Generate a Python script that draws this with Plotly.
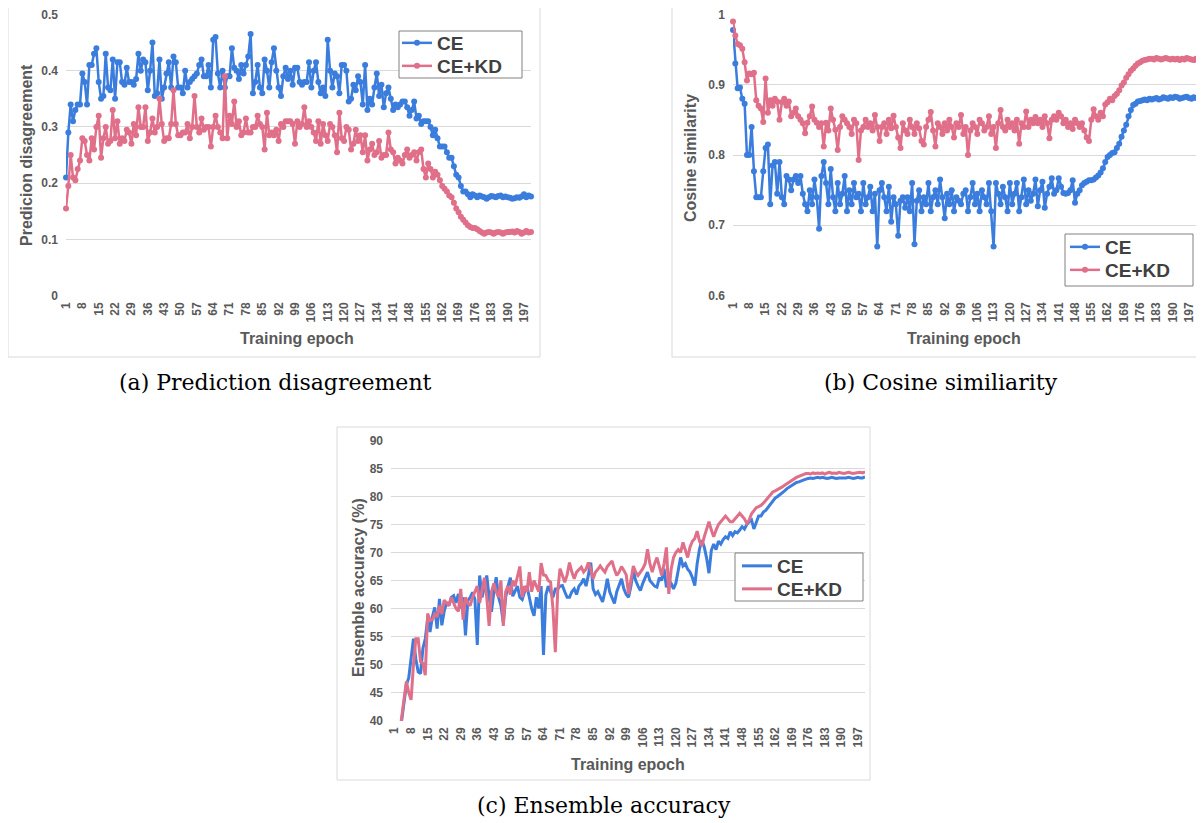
import plotly.graph_objects as go

# ---------------- data ----------------
epochs = list(range(1, 201))
tick_epochs = list(range(1, 201, 7))
tick_labels = [str(v) for v in tick_epochs]
series_names = ["CE", "CE+KD"]

ya_ticks = [0, 0.1, 0.2, 0.3, 0.4, 0.5]
ya_labels = ["0", "0.1", "0.2", "0.3", "0.4", "0.5"]
yb_ticks = [0.6, 0.7, 0.8, 0.9, 1.0]
yb_labels = ["0.6", "0.7", "0.8", "0.9", "1"]
yc_ticks = [40, 45, 50, 55, 60, 65, 70, 75, 80, 85, 90]
yc_labels = [str(v) for v in yc_ticks]

# (a) Prediction disagreement
pd_ce = [
    0.21, 0.29, 0.34, 0.31, 0.33, 0.34, 0.34, 0.395, 0.38, 0.34,
    0.41, 0.41, 0.43, 0.44, 0.38, 0.35, 0.355, 0.43, 0.37, 0.365,
    0.42, 0.35, 0.415, 0.415, 0.38, 0.375, 0.405, 0.38, 0.38, 0.375,
    0.385, 0.43, 0.40, 0.42, 0.415, 0.365, 0.40, 0.45, 0.355, 0.36,
    0.42, 0.35, 0.37, 0.395, 0.415, 0.37, 0.425, 0.415, 0.37, 0.37,
    0.36, 0.40, 0.37, 0.38, 0.385, 0.39, 0.395, 0.41, 0.42, 0.39,
    0.39, 0.41, 0.37, 0.455, 0.46, 0.395, 0.37, 0.40, 0.37, 0.39,
    0.39, 0.44, 0.405, 0.40, 0.385, 0.41, 0.395, 0.41, 0.425, 0.465,
    0.36, 0.38, 0.41, 0.37, 0.36, 0.42, 0.40, 0.37, 0.415, 0.44,
    0.40, 0.37, 0.355, 0.39, 0.405, 0.385, 0.40, 0.375, 0.405, 0.405,
    0.38, 0.375, 0.38, 0.38, 0.415, 0.37, 0.40, 0.415, 0.38, 0.36,
    0.37, 0.355, 0.455, 0.40, 0.37, 0.395, 0.39, 0.36, 0.41, 0.41,
    0.40, 0.345, 0.35, 0.375, 0.365, 0.39, 0.38, 0.34, 0.41, 0.33,
    0.35, 0.34, 0.37, 0.395, 0.355, 0.375, 0.335, 0.36, 0.37, 0.35,
    0.33, 0.34, 0.335, 0.34, 0.345, 0.345, 0.335, 0.32, 0.33, 0.345,
    0.315, 0.32, 0.305, 0.31, 0.31, 0.31, 0.30, 0.285, 0.295, 0.28,
    0.265, 0.265, 0.265, 0.255, 0.245, 0.245, 0.23, 0.215, 0.21, 0.195,
    0.185, 0.185, 0.18, 0.175, 0.18, 0.178, 0.175, 0.178, 0.176, 0.175,
    0.172, 0.175, 0.177, 0.176, 0.175, 0.177, 0.178, 0.175, 0.176, 0.175,
    0.174, 0.172, 0.173, 0.175, 0.174, 0.176, 0.18, 0.175, 0.178, 0.176,
]
pd_kd = [
    0.155, 0.195, 0.25, 0.21, 0.205, 0.225, 0.24, 0.28, 0.275, 0.25,
    0.24, 0.28, 0.26, 0.30, 0.32, 0.245, 0.28, 0.30, 0.27, 0.275,
    0.33, 0.28, 0.31, 0.27, 0.28, 0.275, 0.295, 0.29, 0.27, 0.305,
    0.285, 0.335, 0.30, 0.30, 0.335, 0.275, 0.29, 0.315, 0.29, 0.30,
    0.35, 0.305, 0.275, 0.28, 0.28, 0.305, 0.365, 0.305, 0.285, 0.285,
    0.29, 0.29, 0.305, 0.28, 0.30, 0.355, 0.30, 0.29, 0.315, 0.295,
    0.30, 0.30, 0.265, 0.30, 0.32, 0.30, 0.29, 0.28, 0.39, 0.28,
    0.32, 0.305, 0.345, 0.30, 0.31, 0.285, 0.29, 0.315, 0.29, 0.29,
    0.30, 0.30, 0.32, 0.305, 0.30, 0.26, 0.325, 0.285, 0.29, 0.285,
    0.295, 0.275, 0.305, 0.30, 0.31, 0.31, 0.31, 0.305, 0.27, 0.31,
    0.30, 0.305, 0.335, 0.30, 0.31, 0.30, 0.29, 0.275, 0.31, 0.27,
    0.305, 0.285, 0.275, 0.305, 0.30, 0.285, 0.255, 0.325, 0.28, 0.275,
    0.30, 0.295, 0.26, 0.27, 0.295, 0.275, 0.285, 0.255, 0.285, 0.24,
    0.26, 0.27, 0.25, 0.255, 0.275, 0.245, 0.25, 0.25, 0.29, 0.26,
    0.255, 0.235, 0.245, 0.24, 0.235, 0.25, 0.26, 0.245, 0.25, 0.255,
    0.24, 0.255, 0.26, 0.225, 0.21, 0.235, 0.225, 0.21, 0.22, 0.215,
    0.205, 0.195, 0.19, 0.185, 0.178, 0.175, 0.165, 0.155, 0.148, 0.14,
    0.135, 0.13, 0.125, 0.122, 0.12, 0.12, 0.118, 0.115, 0.112, 0.11,
    0.112, 0.113, 0.112, 0.11, 0.112, 0.113, 0.112, 0.11, 0.112, 0.113,
    0.113, 0.114, 0.112, 0.115, 0.113, 0.11, 0.112, 0.115, 0.112, 0.113,
]

# (b) Cosine similarity
cs_ce = [
    0.978, 0.93, 0.895, 0.896, 0.88, 0.873, 0.80, 0.80, 0.84, 0.777,
    0.74, 0.74, 0.74, 0.777, 0.81, 0.815, 0.73, 0.785, 0.79, 0.745,
    0.79, 0.74, 0.73, 0.77, 0.765, 0.75, 0.765, 0.77, 0.76, 0.77,
    0.745, 0.73, 0.72, 0.75, 0.73, 0.765, 0.74, 0.695, 0.77, 0.79,
    0.76, 0.73, 0.78, 0.74, 0.72, 0.76, 0.73, 0.745, 0.77, 0.72,
    0.75, 0.73, 0.76, 0.74, 0.745, 0.72, 0.76, 0.73, 0.74, 0.755,
    0.72, 0.745, 0.67, 0.75, 0.76, 0.74, 0.72, 0.755, 0.705, 0.74,
    0.73, 0.685, 0.735, 0.74, 0.725, 0.74, 0.72, 0.76, 0.673, 0.735,
    0.75, 0.72, 0.74, 0.73, 0.76, 0.72, 0.74, 0.75, 0.73, 0.765,
    0.74, 0.71, 0.745, 0.73, 0.75, 0.72, 0.74, 0.735, 0.73, 0.745,
    0.75, 0.72, 0.74, 0.76, 0.73, 0.745, 0.72, 0.75, 0.74, 0.73,
    0.76, 0.72, 0.67, 0.76, 0.745, 0.73, 0.755, 0.74, 0.72, 0.76,
    0.73, 0.745, 0.76, 0.72, 0.74, 0.765, 0.73, 0.75, 0.735, 0.745,
    0.765, 0.727, 0.75, 0.762, 0.725, 0.745, 0.755, 0.767, 0.745, 0.75,
    0.767, 0.755, 0.746, 0.745, 0.746, 0.75, 0.764, 0.732, 0.745, 0.75,
    0.757, 0.76, 0.762, 0.764, 0.764, 0.765, 0.768, 0.771, 0.775, 0.781,
    0.79, 0.797, 0.80, 0.803, 0.804, 0.81, 0.816, 0.826, 0.835, 0.843,
    0.855, 0.864, 0.871, 0.873, 0.876, 0.877, 0.878, 0.879, 0.878, 0.88,
    0.879, 0.88, 0.881, 0.879, 0.88, 0.882, 0.881, 0.88, 0.882, 0.881,
    0.883, 0.882, 0.88, 0.881, 0.882, 0.883, 0.881, 0.88, 0.882, 0.881,
]
cs_kd = [
    0.99, 0.97, 0.958, 0.956, 0.951, 0.932, 0.906, 0.916, 0.915, 0.917,
    0.878, 0.87, 0.866, 0.847, 0.909, 0.86, 0.878, 0.87, 0.88, 0.876,
    0.85, 0.875, 0.88, 0.87, 0.876, 0.855, 0.86, 0.866, 0.855, 0.85,
    0.845, 0.831, 0.846, 0.855, 0.869, 0.85, 0.846, 0.84, 0.845, 0.812,
    0.846, 0.835, 0.866, 0.85, 0.836, 0.807, 0.84, 0.855, 0.85, 0.845,
    0.84, 0.83, 0.85, 0.845, 0.793, 0.835, 0.84, 0.85, 0.84, 0.845,
    0.835, 0.857, 0.84, 0.82, 0.84, 0.845, 0.83, 0.85, 0.838, 0.856,
    0.84, 0.825, 0.81, 0.845, 0.835, 0.83, 0.85, 0.84, 0.83, 0.845,
    0.838, 0.82, 0.815, 0.84, 0.85, 0.861, 0.835, 0.812, 0.845, 0.84,
    0.83, 0.845, 0.835, 0.85, 0.84, 0.825, 0.845, 0.84, 0.857, 0.83,
    0.84, 0.80, 0.835, 0.845, 0.84, 0.83, 0.85, 0.845, 0.835, 0.84,
    0.855, 0.83, 0.84, 0.81, 0.845, 0.864, 0.84, 0.835, 0.85, 0.84,
    0.845, 0.835, 0.85, 0.816, 0.845, 0.84, 0.862, 0.84, 0.85, 0.845,
    0.854, 0.845, 0.85, 0.84, 0.855, 0.845, 0.824, 0.85, 0.855, 0.85,
    0.86, 0.855, 0.845, 0.85, 0.84, 0.845, 0.837, 0.85, 0.845, 0.84,
    0.845, 0.835, 0.825, 0.82, 0.85, 0.865, 0.855, 0.85, 0.86, 0.855,
    0.872, 0.875, 0.88, 0.878, 0.884, 0.887, 0.892, 0.899, 0.903, 0.91,
    0.915, 0.92, 0.923, 0.927, 0.93, 0.932, 0.934, 0.935, 0.936, 0.937,
    0.937, 0.936, 0.938, 0.937, 0.936, 0.937, 0.938, 0.937, 0.936, 0.937,
    0.936, 0.937, 0.935, 0.937, 0.936, 0.938, 0.937, 0.936, 0.935, 0.937,
]

# (c) Ensemble accuracy (%)
ea_ce = [
    24, 31, 37, 40, 43, 46.4, 47.6, 51, 54.6, 51,
    48.7, 48.4, 52.9, 54.6, 58.2, 55.8, 58.5, 60.2, 56.4, 61.7,
    57, 59.5, 61.1, 60.5, 62, 62.3, 61, 62.6, 60, 62,
    55.2, 61.4, 62, 62.9, 61.6, 53.5, 65.9, 62, 64, 65.9,
    62, 59.4, 63, 65.6, 62, 60.5, 57.5, 62, 64, 65.5,
    62.2, 63, 64, 62, 61.6, 63, 64, 62, 60, 58.7,
    62, 60, 64, 51.7, 62.4, 64, 63, 62, 63.5, 63.5,
    64, 64.1, 63, 62, 62, 63, 63.5, 62.5, 64, 64.5,
    65.3, 64, 66, 68.2, 63.5, 62.5, 63, 62, 61.2, 63,
    65.3, 63, 62, 60.9, 63, 64, 65.3, 63.5, 62.5, 62,
    64, 66.8, 65, 64, 63.2, 64.5, 65.5, 66.5, 65, 64.5,
    64, 63.8, 65.5, 65, 67.1, 63.8, 65, 64.5, 63.5, 64.5,
    67, 69.1, 67.6, 68, 67, 66.5, 65.5, 64.1, 68, 70.6,
    72.2, 71, 69, 66.3, 70.4, 71.5, 70.5, 72, 71.5, 72.3,
    72.8, 72.5, 73.7, 73, 73.7, 73.5, 74, 74.6, 74.2, 75,
    75.5, 75.8, 74.2, 75.5, 76.5, 76.5, 77.2, 77.5, 78.1, 78.5,
    79.2, 79.7, 80, 80.3, 80.7, 81, 81.4, 81.7, 82, 82.3,
    82.5, 82.6, 82.8, 83, 83.1, 83.2, 83.3, 83.2, 83.3, 83.4,
    83.3, 83.4, 83.3, 83.2, 83.3, 83.4, 83.3, 83.2, 83.3, 83.3,
    83.2, 83.3, 83.4, 83.3, 83.2, 83.3, 83.4, 83.3, 83.3, 83.5,
]
ea_kd = [
    25, 32, 37.5, 40.5, 43.5, 47, 45, 43.7, 50, 54.6,
    54.6, 50.5, 50.2, 48.1, 59.1, 57.9, 58, 59, 58.5, 60.5,
    59, 61.5, 61, 60.5, 62, 61, 60, 59.5, 63.5, 58,
    62, 61, 60.5, 62, 63, 64, 61, 63, 65.5, 62,
    56.9, 63, 64.5, 63, 62, 65, 56.9, 63, 64, 62.5,
    65, 64, 66, 67.5, 62, 64, 63, 66.5, 63, 65,
    64, 63, 68.1, 66, 65.9, 65, 64.7, 60, 52.2, 63,
    67.1, 66, 64.7, 66, 68.2, 66.5, 65.3, 66.5, 67, 67.4,
    66.5, 67, 68.2, 67, 65.3, 66.5, 67, 67.6, 67, 66.5,
    67.5, 68, 68.5, 67, 65.9, 66.5, 67.5, 66.8, 66, 62.6,
    65, 67.6, 66.5, 65.9, 66.5, 67.1, 68, 70.6, 68, 66.5,
    68, 69.1, 67.5, 65.9, 68, 70.9, 62.6, 67, 69.1, 70,
    70.5, 70, 71.8, 70.5, 69.1, 71, 72, 72.5, 73.8, 72,
    71.2, 72.8, 74, 75.5, 74, 72.8, 74, 75, 75.5, 76,
    76.5, 76, 75.5, 75.5, 76, 76.5, 77, 76.5, 76, 75.2,
    75.8, 76.9, 77.5, 78, 78.2, 78.4, 78.8, 79.3, 79.8, 80.3,
    80.8, 81, 81.2, 81.5, 81.7, 82, 82.3, 82.6, 82.9, 83.2,
    83.4, 83.6, 83.8, 84, 84.1, 84.1, 84, 84.2, 84.1, 84.2,
    84.1, 84.2, 84, 84.2, 84.3, 84.1, 84.2, 84.1, 84.3, 84.2,
    84.1, 84.2, 84.3, 84.2, 84.1, 84.2, 84.3, 84.3, 84.2, 84.4,
]

# ---------------- layout helpers ----------------
# The page body adds an 8px margin, so the figure is drawn 8px smaller and
# all positions are given in window pixels and shifted by that offset.
OFF = 8
W, H = 1204 - OFF, 823 - OFF


def px(x):
    return (x - OFF) / W


def py(y):
    return 1 - (y - OFF) / H


BLUE = "#3b7ddd"
PINK = "#e06f89"
GRID = "#d9d9d9"
TXT = "#595959"
FONT = "Liberation Sans"

fig = go.Figure()


def line_trace(x, y, name, color, xa, ya, leg, markers):
    if markers:
        return go.Scatter(x=x, y=y, name=name, mode="lines+markers",
                          line=dict(color=color, width=2.5),
                          marker=dict(size=6, color=color),
                          xaxis=xa, yaxis=ya, legend=leg, cliponaxis=False)
    return go.Scatter(x=x, y=y, name=name, mode="lines",
                      line=dict(color=color, width=3),
                      xaxis=xa, yaxis=ya, legend=leg)


# (a)
fig.add_trace(line_trace(epochs, pd_ce, series_names[0], BLUE, "x", "y", "legend", True))
fig.add_trace(line_trace(epochs, pd_kd, series_names[1], PINK, "x", "y", "legend2", True))
# (b)
fig.add_trace(line_trace(epochs, cs_ce, series_names[0], BLUE, "x2", "y2", "legend3", True))
fig.add_trace(line_trace(epochs, cs_kd, series_names[1], PINK, "x2", "y2", "legend4", True))
# (c)
fig.add_trace(line_trace(epochs, ea_ce, series_names[0], BLUE, "x3", "y3", "legend5", False))
fig.add_trace(line_trace(epochs, ea_kd, series_names[1], PINK, "x3", "y3", "legend6", False))

tickfont = dict(family=FONT, size=12, color=TXT, weight="bold")


def xax(domain, rng, anchor):
    return dict(domain=domain, range=rng, anchor=anchor, tickmode="array",
                tickvals=tick_epochs, ticktext=tick_labels, tickangle=-90,
                tickfont=tickfont, showgrid=False, zeroline=False, showline=False,
                ticks="", ticklabelstandoff=3, fixedrange=True, automargin=False,
                ticklabeloverflow="allow")


def yax(domain, rng, tv, tt, anchor):
    # pad the range a hair so the end gridlines / labels are kept
    pad = (rng[1] - rng[0]) * 0.0015
    return dict(domain=domain, range=[rng[0] - pad, rng[1] + pad], tickmode="array",
                tickvals=tv, ticktext=tt, anchor=anchor, tickfont=tickfont,
                showgrid=True, gridcolor=GRID, gridwidth=1, zeroline=False,
                showline=False, ticks="", ticklabelstandoff=7, fixedrange=True,
                automargin=False, ticklabeloverflow="allow")


def leg(x_text, y_row):
    return dict(x=px(x_text - 40), y=py(y_row), xanchor="left", yanchor="middle",
                font=dict(family=FONT, size=19, color="#404040", weight="bold"),
                bgcolor="rgba(0,0,0,0)", borderwidth=0, itemwidth=30)


fig.update_layout(
    width=W, height=H, margin=dict(l=0, r=0, t=0, b=0, autoexpand=False),
    paper_bgcolor="white", plot_bgcolor="white", showlegend=True,
    xaxis=xax([px(66), px(531)], [1, 200], "y"),
    yaxis=yax([py(296), py(14)], [0, 0.5], ya_ticks, ya_labels, "x"),
    xaxis2=xax([px(733), px(1196)], [1, 200], "y2"),
    yaxis2=yax([py(296), py(14)], [0.6, 1.0], yb_ticks, yb_labels, "x2"),
    xaxis3=xax([px(391), px(865)], [-0.5, 200], "y3"),
    yaxis3=yax([py(721), py(440)], [40, 90], yc_ticks, yc_labels, "x3"),
    legend=leg(437, 43), legend2=leg(437, 66),
    legend3=leg(1105, 247), legend4=leg(1105, 270),
    legend5=leg(777, 566), legend6=leg(777, 589),
)

# frames around each chart image
for (x0, y0, x1, y1) in [(8, 3, 540, 357), (672, 3, 1198, 357), (337, 427, 870, 780)]:
    fig.add_shape(type="rect", xref="paper", yref="paper",
                  x0=px(x0), x1=px(x1), y0=py(y1), y1=py(y0),
                  line=dict(color=GRID, width=1), fillcolor="rgba(0,0,0,0)", layer="below")

# legend frames
for (x0, y0, x1, y1) in [(399, 31, 522, 78), (1065, 234, 1193, 286), (735, 553, 863, 601)]:
    fig.add_shape(type="rect", xref="paper", yref="paper",
                  x0=px(x0), x1=px(x1), y0=py(y1), y1=py(y0),
                  line=dict(color="#808080", width=1), fillcolor="white", layer="above")

title_font = dict(family=FONT, size=16, color=TXT, weight="bold")
annots = [
    ("Training epoch", 297, 338, 0),
    ("Predicion disagreement", 26, 155, -90),
    ("Training epoch", 964, 338, 0),
    ("Cosine similarity", 690, 158, -90),
    ("Training epoch", 628, 764, 0),
    ("Ensemble accuracy (%)", 358, 588, -90),
]
for text, x, y, ang in annots:
    fig.add_annotation(text=text, x=px(x), y=py(y), xref="paper", yref="paper",
                       showarrow=False, textangle=ang, font=title_font,
                       xanchor="center", yanchor="middle")

cap_font = dict(family="DejaVu Serif", size=22, color="black")
captions = [
    ("(a) Prediction disagreement", 275, 382),
    ("(b) Cosine similiarity", 941, 382),
    ("(c) Ensemble accuracy", 604, 805),
]
for text, x, y in captions:
    fig.add_annotation(text=text, x=px(x), y=py(y), xref="paper", yref="paper",
                       showarrow=False, font=cap_font, xanchor="center", yanchor="middle")

fig.write_html("out.html")
